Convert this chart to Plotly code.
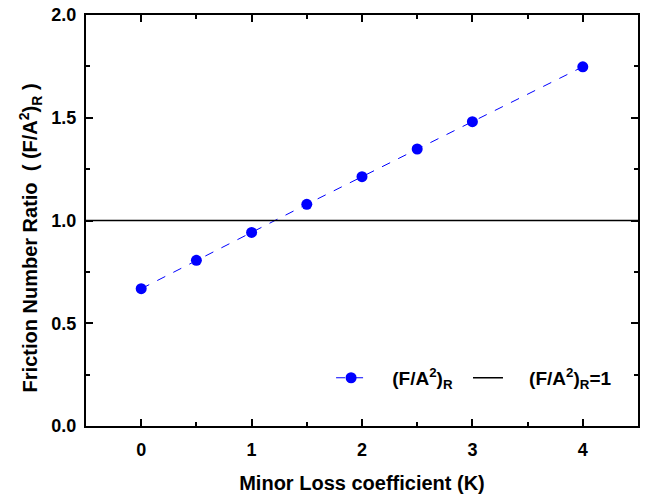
import plotly.graph_objects as go

k_values = [0, 0.5, 1, 1.5, 2, 2.5, 3, 4]
ratio_values = [0.668, 0.806, 0.942, 1.079, 1.213, 1.348, 1.481, 1.748]
ref_x = [-0.5, 4.5]
ref_y = [1.0, 1.0]

font_family = "Liberation Sans, Arial, sans-serif"
NB = "\u00a0"

fig = go.Figure()
fig.add_trace(go.Scatter(
    x=k_values, y=ratio_values, mode="lines+markers",
    name=NB * 4 + "<b>(F/A<sup>2</sup>)<sub>R</sub></b>",
    line=dict(color="#0000ff", width=1, dash="dash"),
    marker=dict(color="#0000ff", size=11),
    legend="legend",
))
fig.add_trace(go.Scatter(
    x=ref_x, y=ref_y, mode="lines",
    name=NB * 4 + "<b>(F/A<sup>2</sup>)<sub>R</sub>=1</b>",
    line=dict(color="black", width=1.5),
    legend="legend2",
))

axis_common = dict(
    showline=True, linecolor="black", linewidth=2, mirror="ticks",
    ticks="inside", ticklen=7, tickwidth=1.5, tickcolor="black",
    showgrid=False, zeroline=False, automargin=False,
    tickfont=dict(family=font_family, size=18, color="black", weight="bold"),
    title_font=dict(family=font_family, size=20, color="black", weight="bold"),
)

fig.update_xaxes(
    range=[-0.5, 4.5], tickvals=[0, 1, 2, 3, 4],
    minor=dict(ticks="inside", ticklen=4, tickwidth=1.5, tickcolor="black", dtick=0.5, tick0=0),
    title_text="Minor Loss coefficient (K)", title_standoff=18,
    ticklabelstandoff=6,
    **axis_common,
)
fig.update_yaxes(
    range=[0, 2.0], tickvals=[0, 0.5, 1.0, 1.5, 2.0], tickformat=".1f",
    minor=dict(ticks="inside", ticklen=4, tickwidth=1.5, tickcolor="black", dtick=0.25, tick0=0),
    ticklabelstandoff=4,
    **axis_common,
)

fig.add_annotation(
    text="<b>Friction Number Ratio  ( (F/A<sup>2</sup>)<sub>R</sub> )</b>",
    xref="paper", yref="paper", x=-0.101, y=0.457,
    xanchor="center", yanchor="middle", textangle=-90, showarrow=False,
    font=dict(family=font_family, size=20, color="black"),
)

legend_common = dict(
    orientation="h", yanchor="middle", xanchor="left",
    bgcolor="rgba(0,0,0,0)", font=dict(family=font_family, size=19, color="black"),
)

fig.update_layout(
    width=649, height=494,
    margin=dict(l=86, r=11, t=15, b=68),
    plot_bgcolor="white", paper_bgcolor="white",
    font=dict(family=font_family, size=17, color="black"),
    showlegend=True,
    legend=dict(x=0.444, y=0.117, **legend_common),
    legend2=dict(x=0.692, y=0.117, **legend_common),
)

fig.write_html("out.html")
